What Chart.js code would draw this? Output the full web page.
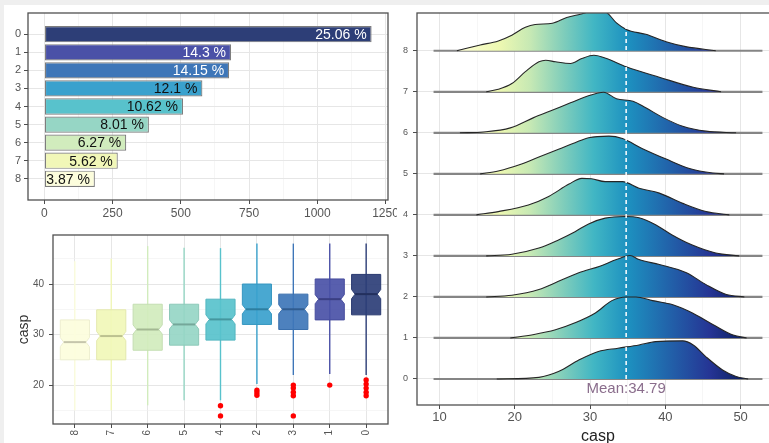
<!DOCTYPE html>
<html><head><meta charset="utf-8">
<script src="https://cdn.jsdelivr.net/npm/chart.js@4.4.1/dist/chart.umd.min.js"></script>
<style>
html,body{margin:0;padding:0;background:#efefef;}
#wrap{position:relative;width:769px;height:443px;overflow:hidden;background:#efefef;}
#white{position:absolute;left:4px;top:5px;right:0;bottom:0;background:#fff;}
canvas{position:absolute;}
</style></head><body>
<div id="wrap"><div id="white"></div>
<canvas id="bar" style="left:0;top:0" width="397" height="225"></canvas>
<canvas id="box" style="left:0;top:225px" width="397" height="218"></canvas>
<canvas id="ridge" style="left:400px;top:0" width="390" height="443"></canvas>
</div>
<script>
// ---------------- DATA ----------------
const barCategories = ['0','1','2','3','4','5','6','7','8'];
const barCounts = [1199, 684, 677, 579, 508, 383, 300, 269, 185];
const barPercentLabels = ['25.06 %','14.3 %','14.15 %','12.1 %','10.62 %','8.01 %','6.27 %','5.62 %','3.87 %'];
const barXTicks = [0,125,250,375,500,625,750,875,1000,1125,1250];

const boxOrder = ['8','7','6','5','4','2','3','1','0'];
const boxWhiskerLow  = [15, 15, 16, 17, 17, 20.2, 22, 22.2, 22];
const boxQ1          = [25, 25, 26.9, 27.9, 28.9, 32, 31, 32.9, 33.9];
const boxMedian      = [28.5, 29.7, 31, 32, 33, 35, 35, 37, 38];
const boxQ3          = [32.9, 34.9, 36, 36, 37, 40, 38, 41, 41.9];
const boxWhiskerHigh = [44.5, 45, 47.5, 47.2, 47.1, 48, 48, 48, 48];
const outlierPosition = [4, 4, 5, 5, 5, 6, 6, 6, 6, 6, 7, 8, 8, 8, 8, 8];
const outlierValue    = [15.9, 13.9, 19, 18.5, 18, 20, 19.4, 18.6, 17.9, 13.9, 20, 21, 20.2, 19.4, 18.6, 17.9];
const boxYTicks = [15,20,25,30,35,40,45];

const ridgeCategories = ['0','1','2','3','4','5','6','7','8'];
const ridgeCasp0 = [17.6, 23.2, 25.8, 28.5, 31.1, 33.7, 36.5, 38.7, 42.3, 43.7, 45.4, 47.6, 49.4, 51.0];
const ridgeDens0 = [0, 0.04, 0.18, 0.46, 0.67, 0.75, 0.83, 0.91, 0.93, 0.83, 0.54, 0.22, 0.06, 0];
const ridgeCasp1 = [19.4, 22.4, 25.4, 28.0, 30.7, 32.9, 34.8, 36.1, 38.3, 41.0, 43.6, 46.3, 49.0, 50.8];
const ridgeDens1 = [0, 0.08, 0.20, 0.37, 0.61, 0.91, 1.0, 1.0, 0.91, 0.81, 0.61, 0.33, 0.07, 0];
const ridgeCasp2 = [16.2, 19.6, 23.2, 25.8, 28.5, 31.3, 33.5, 35.3, 36.5, 39.2, 42.8, 45.4, 48.1, 50.5];
const ridgeDens2 = [0, 0.04, 0.18, 0.38, 0.59, 0.75, 0.91, 1.01, 0.91, 0.79, 0.59, 0.30, 0.06, 0];
const ridgeCasp3 = [16.2, 19.6, 23.2, 25.8, 28.0, 29.8, 32.0, 34.6, 36.5, 38.7, 40.9, 43.5, 46.7, 49.8];
const ridgeDens3 = [0, 0.04, 0.19, 0.39, 0.59, 0.78, 0.92, 0.96, 0.93, 0.76, 0.51, 0.27, 0.07, 0];
const ridgeCasp4 = [14.9, 17.8, 21.8, 24.5, 27.2, 28.9, 30.2, 32.0, 34.3, 36.5, 39.2, 42.3, 45.4, 48.5];
const ridgeDens4 = [0, 0.08, 0.24, 0.45, 0.75, 0.89, 0.88, 0.81, 0.81, 0.65, 0.53, 0.28, 0.08, 0];
const ridgeCasp5 = [15.4, 17.8, 20.9, 23.2, 25.8, 28.0, 29.8, 32.5, 34.3, 36.9, 40.1, 43.2, 46.3, 47.8];
const ridgeDens5 = [0, 0.07, 0.24, 0.41, 0.60, 0.76, 0.88, 0.92, 0.86, 0.62, 0.36, 0.13, 0.02, 0];
const ridgeCasp6 = [12.7, 15.9, 19.4, 22.5, 24.7, 27.4, 29.6, 31.8, 33.5, 35.7, 37.4, 39.7, 42.3, 45.4, 49.4];
const ridgeDens6 = [0, 0.02, 0.12, 0.37, 0.53, 0.73, 0.89, 0.99, 0.83, 0.77, 0.61, 0.37, 0.16, 0.04, 0];
const ridgeCasp7 = [16.2, 17.8, 19.6, 21.4, 23.2, 24.1, 25.4, 27.4, 28.9, 30.5, 32.2, 34.8, 39.3, 43.7, 47.4];
const ridgeDens7 = [0, 0.06, 0.2, 0.49, 0.73, 0.77, 0.73, 0.69, 0.81, 0.89, 0.81, 0.61, 0.35, 0.11, 0];
const ridgeCasp8 = [12.3, 15.4, 17.8, 19.6, 21.4, 22.7, 25.0, 26.9, 28.7, 30.5, 32.0, 33.5, 34.8, 37.4, 40.1, 42.7, 46.7];
const ridgeDens8 = [0, 0.14, 0.24, 0.38, 0.57, 0.64, 0.67, 0.81, 0.89, 0.97, 0.95, 0.68, 0.52, 0.40, 0.22, 0.10, 0];
const ridgeBaselineRange = [9.2, 52.9];
const ridgeXTicks = [10,15,20,25,30,35,40,45,50,55];
const meanCasp = 34.79;

// ---------------- STYLE HELPERS ----------------
Chart.defaults.font.family = '"Liberation Sans", Arial, Helvetica, sans-serif';
Chart.defaults.color = '#4d4d4d';
const palette = ['#2d3e77','#4a51a7','#3e76b8','#3aa1cd','#58c2cc','#96d6c5','#d1ecbd','#f1f7b8','#fcfddc'];
const gradientStops = [[12,'#ffffd9'],[18,'#edf8b1'],[22,'#c7e9b4'],[26.5,'#7fcdbb'],[30.5,'#41b6c4'],[35,'#1d91c0'],[41,'#225ea8'],[46,'#253494'],[51,'#081d58']];
function rgb(h){const n=parseInt(h.slice(1),16);return [n>>16&255,n>>8&255,n&255];}
function rgba(h,a){const [r,g,b]=rgb(h);return `rgba(${r},${g},${b},${a})`;}
function darken(h,f){const [r,g,b]=rgb(h);return `rgb(${Math.round(r*(1-f))},${Math.round(g*(1-f))},${Math.round(b*(1-f))})`;}
const GRID_MAJOR='#e6e6e6', GRID_MINOR='#f0f0f0', TICK='#4d4d4d';
function fixedTicks(values){return axis=>{axis.ticks=values.map(v=>({value:v}));};}
function gridOpts(isMajor){
  return {
    color:c=>(c.tick&&isMajor(c.tick.value))?GRID_MAJOR:GRID_MINOR,
    lineWidth:c=>(c.tick&&isMajor(c.tick.value))?1:0.6,
    tickColor:c=>(c.tick&&isMajor(c.tick.value))?TICK:'rgba(0,0,0,0)',
    tickLength:4, drawTicks:true, offset:false
  };
}
function fitSize(prop,val){return s=>{s[prop]=val;s.paddingLeft=0;s.paddingRight=0;s.paddingTop=0;s.paddingBottom=0;};}
const framePlugin={id:'frame',afterDraw(chart){const {ctx,chartArea:a}=chart;ctx.save();ctx.strokeStyle='#505050';ctx.lineWidth=1.3;ctx.strokeRect(a.left,a.top,a.right-a.left,a.bottom-a.top);ctx.restore();}};

// ---------------- PANEL 1: BAR ----------------
const barLabelPlugin={id:'barLabels',afterDatasetsDraw(chart){
  const ctx=chart.ctx, meta=chart.getDatasetMeta(0);
  ctx.save();ctx.font='14px "Liberation Sans", Arial, sans-serif';ctx.textAlign='right';ctx.textBaseline='middle';
  meta.data.forEach((el,i)=>{ctx.fillStyle=i<3?'#ffffff':'#111111';ctx.fillText(barPercentLabels[i],el.x-5,el.y+1);});
  ctx.restore();
}};
new Chart(document.getElementById('bar'),{
  type:'bar',
  data:{datasets:[{
    data:barCounts.map((v,i)=>({x:v,y:i})),
    backgroundColor:barCategories.map((c,i)=>palette[i]),
    borderColor:'#7d7d7d',borderWidth:1.2,borderSkipped:false,
    barPercentage:0.9,categoryPercentage:1
  }]},
  options:{
    indexAxis:'y',responsive:false,animation:false,
    layout:{padding:{top:13,right:9,left:0,bottom:0}},
    plugins:{legend:{display:false},tooltip:{enabled:false}},
    scales:{
      x:{type:'linear',min:-60,max:1259,afterBuildTicks:fixedTicks(barXTicks),afterFit:fitSize('height',25),
         grid:gridOpts(v=>v%250===0),border:{display:false},
         ticks:{callback:v=>v%250===0?String(v):'',font:{size:12},padding:2,color:'#555',maxRotation:0,autoSkip:false}},
      y:{type:'linear',min:-0.6,max:8.6,reverse:true,afterBuildTicks:fixedTicks([0,1,2,3,4,5,6,7,8]),afterFit:fitSize('width',28),
         grid:gridOpts(()=>true),border:{display:false},
         ticks:{callback:v=>barCategories[v],font:{size:11},padding:3,color:'#555'}}
    }
  },
  plugins:[framePlugin,barLabelPlugin]
});

// ---------------- PANEL 2: BOXPLOT ----------------
const BOX_HALF=0.4, NOTCH_HALF=0.9, NOTCH_INSET=0.12;
const boxPlugin={id:'boxes',beforeDatasetsDraw(chart){
  const {ctx,scales:{x,y}}=chart;
  ctx.save();
  boxOrder.forEach((cat,j)=>{
    const col=palette[8-j];
    const cx=x.getPixelForValue(j), xl=x.getPixelForValue(j-BOX_HALF), xr=x.getPixelForValue(j+BOX_HALF);
    const ins=(xr-xl)*NOTCH_INSET;
    ctx.strokeStyle=col;ctx.lineWidth=1.4;
    ctx.beginPath();ctx.moveTo(cx,y.getPixelForValue(boxWhiskerLow[j]));ctx.lineTo(cx,y.getPixelForValue(boxWhiskerHigh[j]));ctx.stroke();
    const yq1=y.getPixelForValue(boxQ1[j]), yq3=y.getPixelForValue(boxQ3[j]), ym=y.getPixelForValue(boxMedian[j]);
    const ynl=y.getPixelForValue(boxMedian[j]-NOTCH_HALF), ynu=y.getPixelForValue(boxMedian[j]+NOTCH_HALF);
    ctx.beginPath();
    ctx.moveTo(xl,yq1);ctx.lineTo(xl,ynl);ctx.lineTo(xl+ins,ym);ctx.lineTo(xl,ynu);ctx.lineTo(xl,yq3);
    ctx.lineTo(xr,yq3);ctx.lineTo(xr,ynu);ctx.lineTo(xr-ins,ym);ctx.lineTo(xr,ynl);ctx.lineTo(xr,yq1);ctx.closePath();
    ctx.fillStyle=rgba(col,0.92);ctx.fill();
    ctx.strokeStyle=darken(col,0.06);ctx.lineWidth=1;ctx.stroke();
    ctx.strokeStyle=darken(col,0.22);ctx.lineWidth=2;
    ctx.beginPath();ctx.moveTo(xl+ins,ym);ctx.lineTo(xr-ins,ym);ctx.stroke();
  });
  ctx.restore();
}};
new Chart(document.getElementById('box'),{
  type:'scatter',
  data:{datasets:[{
    data:outlierPosition.map((p,i)=>({x:p,y:outlierValue[i]})),
    pointRadius:2.7,pointBackgroundColor:'#ff0000',pointBorderWidth:0
  }]},
  options:{
    responsive:false,animation:false,
    layout:{padding:{top:10,right:9,left:0,bottom:0}},
    plugins:{legend:{display:false},tooltip:{enabled:false}},
    scales:{
      x:{type:'linear',min:-0.6,max:8.6,afterBuildTicks:fixedTicks([0,1,2,3,4,5,6,7,8]),afterFit:fitSize('height',19),
         grid:gridOpts(()=>true),border:{display:false},
         ticks:{callback:v=>boxOrder[v],minRotation:90,maxRotation:90,autoSkip:false,font:{size:10},padding:2,color:'#555'}},
      y:{type:'linear',min:12.3,max:49.7,afterBuildTicks:fixedTicks(boxYTicks),afterFit:fitSize('width',53),
         grid:gridOpts(v=>v%10===0),border:{display:false},
         title:{display:true,text:'casp',color:'#333',font:{size:14,lineHeight:1},padding:{top:17,bottom:0}},
         ticks:{callback:v=>v%10===0?String(v):'',font:{size:10},padding:5,color:'#555'}}
    }
  },
  plugins:[framePlugin,boxPlugin]
});

// ---------------- PANEL 3: RIDGES ----------------
const ridgeCasp=[ridgeCasp0,ridgeCasp1,ridgeCasp2,ridgeCasp3,ridgeCasp4,ridgeCasp5,ridgeCasp6,ridgeCasp7,ridgeCasp8];
const ridgeDens=[ridgeDens0,ridgeDens1,ridgeDens2,ridgeDens3,ridgeDens4,ridgeDens5,ridgeDens6,ridgeDens7,ridgeDens8];
let gradCache=null;
function ridgeGradient(context){
  const chart=context.chart, {ctx,chartArea,scales}=chart;
  if(!chartArea) return 'rgba(0,0,0,0)';
  if(gradCache) return gradCache;
  const v0=gradientStops[0][0], v1=gradientStops[gradientStops.length-1][0];
  const g=ctx.createLinearGradient(scales.x.getPixelForValue(v0),0,scales.x.getPixelForValue(v1),0);
  gradientStops.forEach(([v,c])=>g.addColorStop((v-v0)/(v1-v0),c));
  gradCache=g;return g;
}
const ridgeDatasets=[];
ridgeCategories.forEach((cat,k)=>{
  ridgeDatasets.push({
    data:ridgeCasp[k].map((xv,i)=>({x:xv,y:k+ridgeDens[k][i]})),
    fill:{value:k},backgroundColor:ridgeGradient,borderColor:'#262626',borderWidth:1.1,
    pointRadius:0,cubicInterpolationMode:'monotone',order:2*k+2
  });
  ridgeDatasets.push({
    data:ridgeBaselineRange.map(xv=>({x:xv,y:k})),
    fill:false,borderColor:'#858585',borderWidth:2.2,pointRadius:0,order:2*k+3
  });
});
ridgeDatasets.push({
  data:[{x:meanCasp,y:0},{x:meanCasp,y:9}],fill:false,borderColor:'#ffffff',borderWidth:1.5,borderDash:[4,3],pointRadius:0,order:0
});
const meanLabelPlugin={id:'meanLabel',afterDatasetsDraw(chart){
  const {ctx,scales:{x,y}}=chart;
  ctx.save();ctx.font='15px "Liberation Sans", Arial, sans-serif';ctx.fillStyle='#8a6d8c';ctx.textAlign='center';ctx.textBaseline='middle';
  ctx.fillText('Mean:'+meanCasp,x.getPixelForValue(meanCasp),y.getPixelForValue(-0.23));
  ctx.restore();
}};
new Chart(document.getElementById('ridge'),{
  type:'line',
  data:{datasets:ridgeDatasets},
  options:{
    responsive:false,animation:false,
    layout:{padding:{top:13,right:11,left:0,bottom:0}},
    plugins:{legend:{display:false},tooltip:{enabled:false}},
    scales:{
      x:{type:'linear',min:7.0,max:55.1,afterBuildTicks:fixedTicks(ridgeXTicks),afterFit:fitSize('height',38),
         grid:gridOpts(v=>v%10===0),border:{display:false},
         title:{display:true,text:'casp',color:'#222',font:{size:16,lineHeight:0.85},padding:{top:0,bottom:0}},
         ticks:{callback:v=>v%10===0?String(v):'',font:{size:13},padding:1,color:'#555',maxRotation:0,autoSkip:false}},
      y:{type:'linear',min:-0.634,max:8.92,afterBuildTicks:fixedTicks([0,1,2,3,4,5,6,7,8]),afterFit:fitSize('width',17),
         grid:gridOpts(()=>true),border:{display:false},
         ticks:{callback:v=>ridgeCategories[v],font:{size:9},padding:5,color:'#555'}}
    }
  },
  plugins:[framePlugin,meanLabelPlugin]
});
</script>
</body></html>
